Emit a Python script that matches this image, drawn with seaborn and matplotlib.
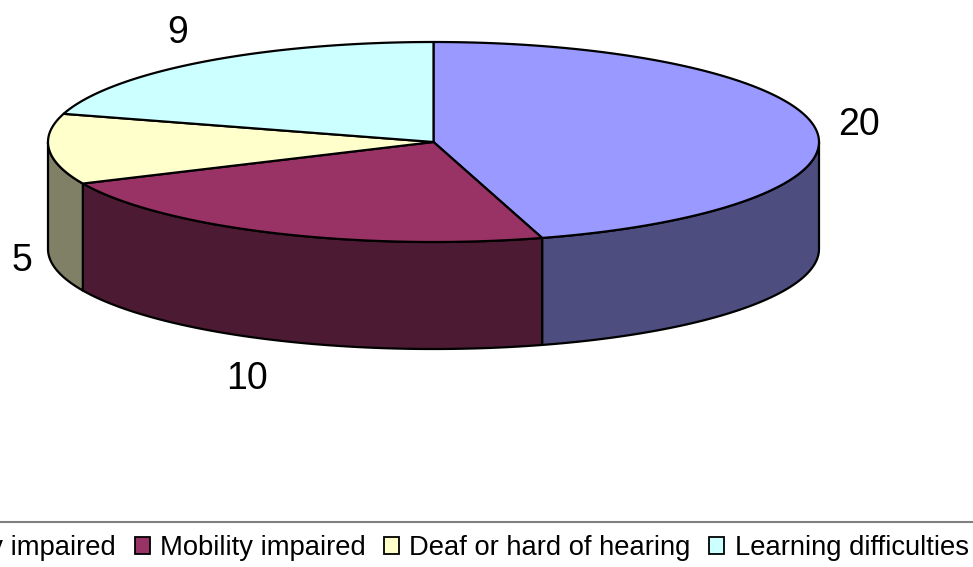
import numpy as np
import matplotlib
matplotlib.use("Agg")
import matplotlib.pyplot as plt
from matplotlib.patches import Polygon, Patch
import seaborn as sns

# ---- data ----
categories = ["Visually impaired", "Mobility impaired", "Deaf or hard of hearing", "Learning difficulties"]
values = [20, 10, 5, 9]
top_colors = ["#9999FF", "#993366", "#FFFFCC", "#CCFFFF"]
side_colors = ["#4D4D80", "#4D1A33", "#808066", "#668080"]

sns.set_theme(style="white")
plt.rcParams["font.family"] = ["Liberation Sans", "DejaVu Sans"]

W, H = 973, 567
fig = plt.figure(figsize=(W / 100, H / 100), dpi=100)
ax = fig.add_axes([0, 0, 1, 1])
ax.set_xlim(0, W)
ax.set_ylim(H, 0)
ax.axis("off")

# layout of the 3-D pie (pixels)
cx, cy, rx, ry, depth = 433.5, 142.0, 385.5, 100.0, 107.0
lw = 1.6
label_gap = 35
label_nudge = [(9, 2), (-12, 7), (8, 2), (-4, -1)]  # layout tweaks, pixels

total = float(sum(values))
bounds = np.concatenate([[0.0], np.cumsum(values) / total * 360.0])


def pt(theta_deg, dy=0.0):
    t = np.radians(theta_deg)
    return cx + rx * np.sin(t), cy - ry * np.cos(t) + dy


# sides (front visible part: 90..270 degrees clockwise from top)
for i in range(len(values)):
    a0, a1 = max(bounds[i], 90.0), min(bounds[i + 1], 270.0)
    if a1 <= a0:
        continue
    th = np.linspace(a0, a1, 120)
    top = [pt(t) for t in th]
    bot = [pt(t, depth) for t in th[::-1]]
    ax.add_patch(Polygon(top + bot, closed=True, facecolor=side_colors[i],
                         edgecolor="black", linewidth=lw, joinstyle="round"))

# tops
for i in range(len(values)):
    th = np.linspace(bounds[i], bounds[i + 1], 200)
    poly = [(cx, cy)] + [pt(t) for t in th]
    ax.add_patch(Polygon(poly, closed=True, facecolor=top_colors[i],
                         edgecolor="black", linewidth=lw, joinstyle="round"))

# value labels
for i, v in enumerate(values):
    tm = np.radians((bounds[i] + bounds[i + 1]) / 2)
    x = cx + (rx + label_gap) * np.sin(tm) + label_nudge[i][0]
    y = cy - (ry + label_gap) * np.cos(tm) + label_nudge[i][1]
    if np.cos(tm) < 0:
        y += depth
    ax.text(x, y, str(v), ha="center", va="center", fontsize=27, color="black")

# legend
handles = [Patch(facecolor=c, edgecolor="black", linewidth=1.3, label=l)
           for c, l in zip(top_colors, categories)]
leg = fig.legend(handles=handles, loc="upper left",
                 bbox_to_anchor=(-129 / W, 1 - 522 / H), ncol=4, frameon=True,
                 fontsize=19.7, handlelength=0.55, handleheight=0.55,
                 handletextpad=0.37, columnspacing=0.68, borderpad=0.48,
                 borderaxespad=0, fancybox=False, edgecolor="#808080",
                 framealpha=1, labelcolor="black")
leg.get_frame().set_linewidth(1.5)

fig.savefig("out.png", dpi=100)
